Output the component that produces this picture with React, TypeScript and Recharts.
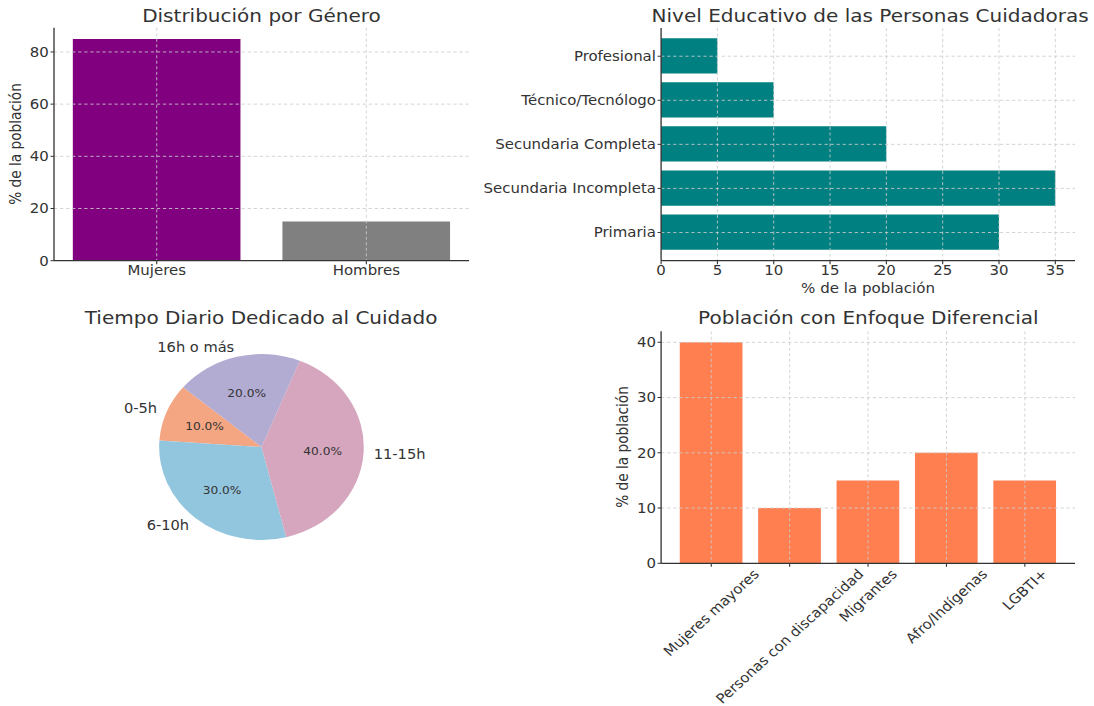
import React from 'react';
import { BarChart, Bar, XAxis, YAxis, CartesianGrid, PieChart, Pie, Cell } from 'recharts';

// ---------- data ----------
const genderCategories = ['Mujeres', 'Hombres'];
const genderValues = [85, 15];
const genderColors = ['#800080', '#808080'];
const genderTicks = [0, 20, 40, 60, 80];

const eduCategories = ['Primaria', 'Secundaria Incompleta', 'Secundaria Completa', 'Técnico/Tecnólogo', 'Profesional'];
const eduValues = [30, 35, 20, 10, 5];
const eduTicks = [0, 5, 10, 15, 20, 25, 30, 35];

const timeCategories = ['0-5h', '6-10h', '11-15h', '16h o más'];
const timeValues = [10, 30, 40, 20];
const timeColors = ['#f4a582', '#92c5de', '#d5a6bd', '#b2abd2'];

const groupCategories = ['Mujeres mayores', 'Personas con discapacidad', 'Migrantes', 'Afro/Indígenas', 'LGBTI+'];
const groupValues = [40, 10, 15, 20, 15];
const groupTicks = [0, 10, 20, 30, 40];

// ---------- styles ----------
const SX = 1.1; // horizontal stretch of the whole figure
const FONT = '"DejaVu Sans", Verdana, sans-serif';
const TXT = '#333333';
const AX = '#333333';
const GRID = '#cccccc';
const TICK = 13.6;
const TITLE = 18.2;

const genderData = genderCategories.map((name, i) => ({ name, value: genderValues[i] }));
const eduData = eduCategories.map((name, i) => ({ name, value: eduValues[i] }));
const timeData = timeCategories.map((name, i) => ({ name, value: timeValues[i] }));
const groupData = groupCategories.map((name, i) => ({ name, value: groupValues[i] }));

let measureCtx: CanvasRenderingContext2D | null = null;
function textWidth(t: string, size: number): number {
  if (!measureCtx) measureCtx = document.createElement('canvas').getContext('2d');
  if (!measureCtx) return t.length * size * 0.6;
  measureCtx.font = `${size}px "DejaVu Sans"`;
  return measureCtx.measureText(t).width;
}

const tickStyle = { fill: TXT, fontSize: TICK, fontFamily: FONT };
const axisLine = { stroke: AX, strokeWidth: 1.2 };
const tickLine = { stroke: AX, strokeWidth: 1 };

const RotTick = (props: any) => {
  const { x, y, payload } = props;
  const label = String(payload.value);
  const L = textWidth(label, TICK);
  const h = TICK * 0.85;
  const half = (L / 2 + h / 2) * Math.SQRT1_2;
  const cy = y - 0.8 + half;
  return (
    <text
      x={x}
      y={cy}
      textAnchor="middle"
      dominantBaseline="central"
      transform={`rotate(-45, ${x}, ${cy})`}
      fill={TXT}
      fontSize={TICK}
      fontFamily={FONT}
    >
      {label}
    </text>
  );
};

const RAD = Math.PI / 180;
const renderPieLabel = (props: any) => {
  const { cx, cy, midAngle, outerRadius, percent, name } = props;
  const c = Math.cos(-midAngle * RAD);
  const s = Math.sin(-midAngle * RAD);
  const ox = cx + outerRadius * 1.1 * c;
  const oy = cy + outerRadius * 1.1 * s;
  const px = cx + outerRadius * 0.6 * c;
  const py = cy + outerRadius * 0.6 * s;
  return (
    <g>
      <text x={ox} y={oy} textAnchor={ox > cx ? 'start' : 'end'} dominantBaseline="central"
        fill={TXT} fontSize={13.3} fontFamily={FONT}>{name}</text>
      <text x={px} y={py} textAnchor="middle" dominantBaseline="central"
        fill={TXT} fontSize={11.1} fontFamily={FONT}>{(percent * 100).toFixed(1) + '%'}</text>
    </g>
  );
};

const abs = (left: number, top: number): React.CSSProperties => ({ position: 'absolute', left, top });
const gridProps = { stroke: GRID, strokeDasharray: '3 2.5', strokeWidth: 0.8, syncWithTicks: true, zIndex: 400 };

export default function App() {
  return (
    <div style={{ position: 'absolute', left: 0, top: 0, width: 1094 / SX, height: 706, background: '#ffffff',
      transform: `scaleX(${SX})`, transformOrigin: '0 0', fontFamily: FONT }}>
      {/* Chart 1 */}
      <div style={abs(0, 0)}>
        <BarChart width={440} height={300} data={genderData}
          margin={{ top: 27.8, right: 13.6, left: 0, bottom: 9.3 }}>
          <XAxis dataKey="name" type="category" interval={0} height={30}
            padding={{ left: -1.9, right: -1.9 }}
            axisLine={axisLine} tickLine={tickLine} tickSize={3.5} tickMargin={1.5} tick={tickStyle} />
          <YAxis type="number" domain={[0, 89.25]} ticks={genderTicks} interval={0} width={49.1}
            axisLine={axisLine} tickLine={tickLine} tickSize={3.2} tickMargin={1.5} tick={tickStyle} />
          <Bar dataKey="value" barSize={152.4} isAnimationActive={false}>
            {genderData.map((d, i) => <Cell key={d.name} fill={genderColors[i]} />)}
          </Bar>
          <CartesianGrid {...gridProps} horizontalValues={genderTicks.filter((t) => t > 0)} />
        </BarChart>
      </div>

      {/* Chart 2 */}
      <div style={abs(420, 0)}>
        <BarChart width={574.5} height={300} data={eduData} layout="vertical"
          margin={{ top: 28, right: 17.2, left: 0, bottom: 9.3 }}>
          <XAxis type="number" dataKey="value" domain={[0, 36.75]} ticks={eduTicks} interval={0} height={30}
            axisLine={axisLine} tickLine={tickLine} tickSize={3.5} tickMargin={1.5} tick={tickStyle} />
          <YAxis type="category" dataKey="name" reversed interval={0} width={181}
            padding={{ top: 6.2, bottom: 6.2 }}
            axisLine={axisLine} tickLine={tickLine} tickSize={3.2} tickMargin={1.5} tick={tickStyle} />
          <Bar dataKey="value" fill="#008080" barSize={35.3} isAnimationActive={false} />
          <CartesianGrid {...gridProps} verticalValues={eduTicks.filter((t) => t > 0)} />
        </BarChart>
      </div>

      {/* Chart 3 */}
      <div style={abs(0, 300)}>
        <PieChart width={440} height={406} margin={{ top: 0, right: 0, bottom: 0, left: 0 }}>
          <Pie data={timeData} dataKey="value" nameKey="name" cx={237.7} cy={147} outerRadius={93}
            startAngle={140} endAngle={500} stroke="none" labelLine={false} label={renderPieLabel}
            isAnimationActive={false}>
            {timeData.map((d, i) => <Cell key={d.name} fill={timeColors[i]} />)}
          </Pie>
        </PieChart>
      </div>

      {/* Chart 4 */}
      <div style={abs(420, 300)}>
        <BarChart width={574.5} height={406} data={groupData}
          margin={{ top: 31.3, right: 17.2, left: 0, bottom: 2.7 }}>
          <XAxis dataKey="name" type="category" interval={0} height={140}
            padding={{ left: 9.98, right: 9.98 }}
            axisLine={axisLine} tickLine={tickLine} tickSize={3.5} tickMargin={1.5} tick={<RotTick />} />
          <YAxis type="number" domain={[0, 42]} ticks={groupTicks} interval={0} width={181}
            axisLine={axisLine} tickLine={tickLine} tickSize={3.2} tickMargin={1.5} tick={tickStyle} />
          <Bar dataKey="value" fill="#ff7f50" barSize={57} isAnimationActive={false} />
          <CartesianGrid {...gridProps} horizontalValues={groupTicks.filter((t) => t > 0)} />
        </BarChart>
      </div>

      {/* Titles and axis labels */}
      <svg width={1094 / SX} height={706} style={{ position: 'absolute', left: 0, top: 0, pointerEvents: 'none' }}>
        <g fill={TXT} fontFamily={FONT}>
          <text x={237.7} y={21.7} textAnchor="middle" fontSize={TITLE}>Distribución por Género</text>
          <text x={791} y={21.7} textAnchor="middle" fontSize={TITLE}>Nivel Educativo de las Personas Cuidadoras</text>
          <text x={237.4} y={324} textAnchor="middle" fontSize={TITLE}>Tiempo Diario Dedicado al Cuidado</text>
          <text x={789.4} y={324} textAnchor="middle" fontSize={TITLE}>Población con Enfoque Diferencial</text>
          <text x={18.7} y={144} textAnchor="middle" fontSize={13.7} transform="rotate(-90, 18.7, 144)">% de la población</text>
          <text x={789.1} y={293} textAnchor="middle" fontSize={13.7}>% de la población</text>
          <text x={571} y={447} textAnchor="middle" fontSize={13.7} transform="rotate(-90, 571, 447)">% de la población</text>
        </g>
      </svg>
    </div>
  );
}
